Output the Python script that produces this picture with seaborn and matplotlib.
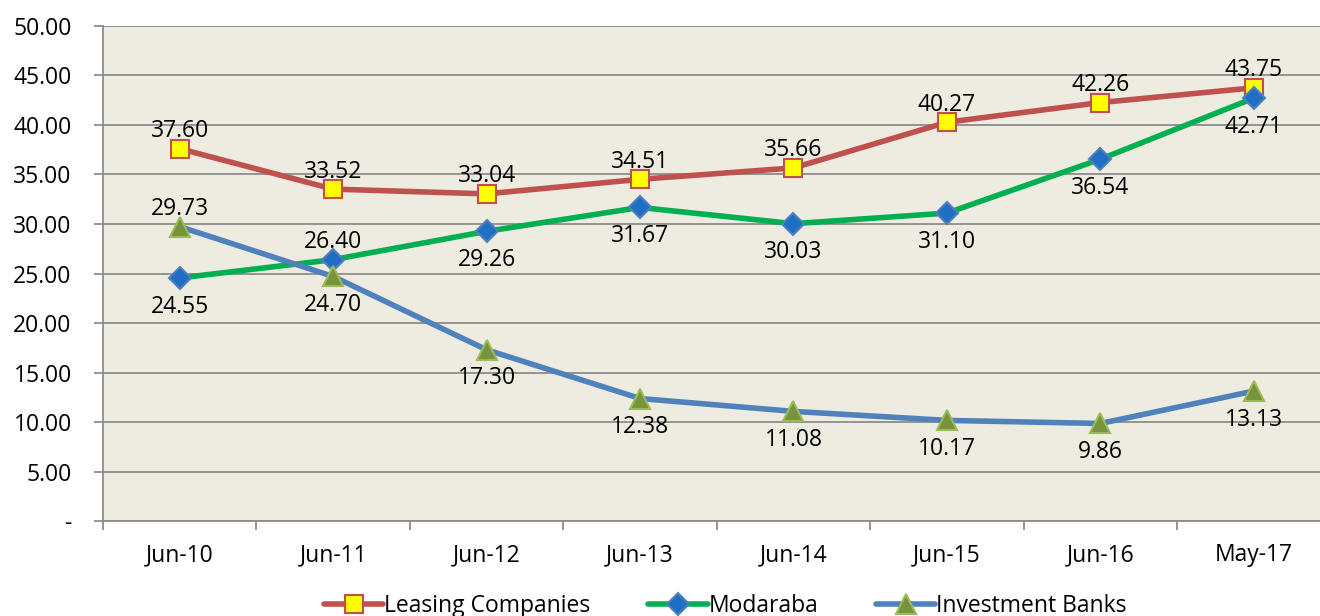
import pandas as pd
import matplotlib
matplotlib.use('Agg')
import matplotlib.pyplot as plt
import seaborn as sns

# data
periods = ['Jun-10', 'Jun-11', 'Jun-12', 'Jun-13', 'Jun-14', 'Jun-15', 'Jun-16', 'May-17']
leasing = [37.60, 33.52, 33.04, 34.51, 35.66, 40.27, 42.26, 43.75]
modaraba = [24.55, 26.40, 29.26, 31.67, 30.03, 31.10, 36.54, 42.71]
inv_banks = [29.73, 24.70, 17.30, 12.38, 11.08, 10.17, 9.86, 13.13]

# label placement: +1 above the point, -1 below
leasing_side = [1, 1, 1, 1, 1, 1, 1, 1]
modaraba_side = [-1, 1, -1, -1, -1, -1, -1, -1]
inv_side = [1, -1, -1, -1, -1, -1, -1, -1]

sns.set_style('ticks')
plt.rcParams['font.family'] = ['Open Sans', 'DejaVu Sans']
plt.rcParams['text.color'] = 'black'
plt.rcParams['xtick.labelcolor'] = 'black'
plt.rcParams['ytick.labelcolor'] = 'black'

df = pd.DataFrame({
    'pos': list(range(len(periods))) * 3,
    'value': leasing + modaraba + inv_banks,
    'series': ['Leasing Companies'] * 8 + ['Modaraba'] * 8 + ['Investment Banks'] * 8,
})

styles = {
    'Leasing Companies': dict(color='#C0504D', marker='s', mfc='#FFFF00', mec='#C0504D', ms=13.5),
    'Modaraba': dict(color='#00B050', marker='D', mfc='#1F6FC5', mec='#4F81BD', ms=11),
    'Investment Banks': dict(color='#4F81BD', marker='^', mfc='#77933C', mec='#9BBB59', ms=14),
}

fig = plt.figure(figsize=(13.2, 6.16), dpi=100)
ax = fig.add_axes([0.078, 0.154, 0.93, 0.804])
ax.set_facecolor('#EEEBE0')

for name, st in styles.items():
    sns.lineplot(data=df[df['series'] == name], x='pos', y='value', ax=ax,
                 color=st['color'], linewidth=4, marker=st['marker'],
                 markerfacecolor=st['mfc'], markeredgecolor=st['mec'],
                 markeredgewidth=1.5, markersize=st['ms'], label=name)

for vals, sides in [(leasing, leasing_side), (modaraba, modaraba_side), (inv_banks, inv_side)]:
    for i, (v, s) in enumerate(zip(vals, sides)):
        ax.annotate(f'{v:.2f}', (i, v), xytext=(0, 4 if s > 0 else -12), textcoords='offset points',
                    ha='center', va='bottom' if s > 0 else 'top', fontsize=16.5)

ax.set_ylim(0, 50)
ax.set_yticks(range(0, 51, 5))
ax.set_yticklabels(['-'] + [f'{t:.2f}' for t in range(5, 51, 5)], fontsize=16.5)
ax.yaxis.grid(True, color='#8C8C8C', linewidth=1.3)
ax.set_axisbelow(True)

ax.set_xlim(-0.5, 7.5)
ax.set_xticks(range(len(periods)))
ax.set_xticklabels(periods, fontsize=16.5)
ax.set_xticks([i - 0.5 for i in range(len(periods) + 1)], minor=True)
ax.tick_params(axis='x', which='major', length=0, pad=16)
ax.tick_params(axis='x', which='minor', length=6.5, color='#8C8C8C', width=1.3)
ax.tick_params(axis='y', length=6.5, color='#8C8C8C', width=1.3, pad=16)
ax.set_xlabel('')
ax.set_ylabel('')
for side in ['left', 'bottom']:
    ax.spines[side].set_color('#8C8C8C')
    ax.spines[side].set_linewidth(1.3)
ax.spines['top'].set_visible(False)
ax.spines['right'].set_visible(False)

ax.legend(loc='center', bbox_to_anchor=(0.507, -0.172), ncol=3, frameon=False,
          fontsize=16.5, handlelength=2.6, columnspacing=2.5, handletextpad=0.05)

fig.savefig('out.png', dpi=100)
